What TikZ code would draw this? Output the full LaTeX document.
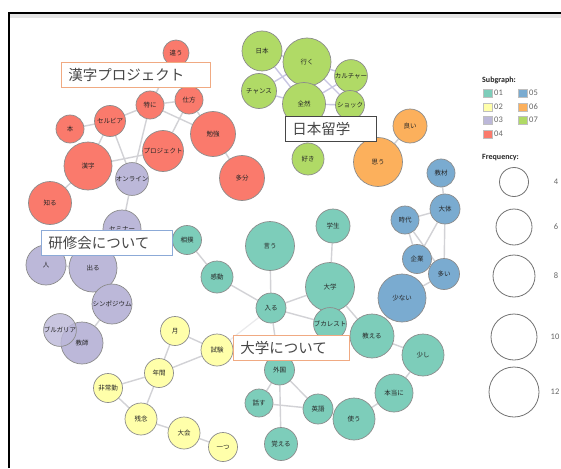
\documentclass[tikz,border=0pt]{standalone}
\usepackage{fontspec}
\setmainfont{Noto Sans CJK JP}
\newfontfamily\legfont{Carlito}
\usetikzlibrary{backgrounds}
\definecolor{cA}{RGB}{125,205,186}
\definecolor{cB}{RGB}{255,255,170}
\definecolor{cC}{RGB}{188,184,217}
\definecolor{cD}{RGB}{250,122,108}
\definecolor{cE}{RGB}{122,171,208}
\definecolor{cF}{RGB}{252,176,92}
\definecolor{cG}{RGB}{176,218,102}
\definecolor{edgegray}{RGB}{210,210,214}
\definecolor{edgelav}{RGB}{200,198,226}
\definecolor{faintgray}{RGB}{234,234,236}
\definecolor{boxorange}{RGB}{240,170,130}
\definecolor{boxblue}{RGB}{140,170,215}
\definecolor{boxdark}{RGB}{70,70,70}
\newcommand\kwnode[6]{\node[kwn,fill=#5,minimum size=#4*2pt] (#1) at (#2,#3) {#6};}
\begin{document}
\begin{tikzpicture}[x=1pt,y=-1pt,
  kwn/.style={circle,draw=black!45,line width=0.7pt,inner sep=0pt,
    font=\fontsize{6.5}{7}\selectfont,text=black!85},
  edge/.style={draw=edgegray,line width=1.4pt},
  edgel/.style={draw=edgelav,line width=1.4pt},
  edgef/.style={draw=faintgray,line width=1.2pt},
  tbox/.style={draw,fill=white,line width=0.8pt,anchor=north west,minimum height=25pt,
    inner xsep=7pt,inner ysep=0pt,align=left,
    font=\fontsize{14.5}{15}\selectfont,text=black!72},
  fcirc/.style={circle,draw=black!55,line width=0.8pt,fill=white,inner sep=0pt},
  legtxt/.style={font=\legfont\fontsize{8.5}{9}\selectfont,text=black!60,inner sep=0pt},
  legtitle/.style={font=\legfont\bfseries\fontsize{8}{9}\selectfont,text=black!85,inner sep=0pt,anchor=west},
  swatch/.style={minimum size=8.5pt,inner sep=0pt,draw=black!25,line width=0.3pt}
]
\useasboundingbox (0,0) rectangle (561,468);
% frame
\fill[black!10] (10,14) rectangle (561,18);
\draw[line width=2pt] (9,468) -- (9,13) -- (561,13);

% ---- red (04)
\kwnode{chigau}{176}{53}{13}{cD}{違う}
\kwnode{shikata}{189}{100}{14}{cD}{仕方}
\kwnode{tokuni}{150}{105}{14}{cD}{特に}
\kwnode{serbia}{110}{121}{15.5}{cD}{セルビア}
\kwnode{hon}{70}{129}{14}{cD}{本}
\kwnode{benkyo}{213}{134}{22.5}{cD}{勉強}
\kwnode{project}{163}{151}{20.5}{cD}{プロジェクト}
\kwnode{kanji}{88}{166}{24}{cD}{漢字}
\kwnode{tabun}{242}{178}{22.5}{cD}{多分}
\kwnode{shiru}{50}{203}{21.5}{cD}{知る}
% ---- purple (03)
\kwnode{online}{132}{179}{16}{cC}{オンライン}
\kwnode{seminar}{122}{229}{19}{cC}{セミナー}
\kwnode{hito}{46}{265}{20}{cC}{人}
\kwnode{deru}{93}{268}{24}{cC}{出る}
\kwnode{sympo}{112}{304}{20}{cC}{シンポジウム}
\kwnode{kyoshi}{82}{343}{21}{cC}{教師}
\node[kwn,fill=cC,fill opacity=0.8,text opacity=1,minimum size=32pt] (bulgaria) at (60,330) {ブルガリア};
% ---- green (07)
\kwnode{nihon}{262}{51}{20}{cG}{日本}
\kwnode{iku}{307}{62}{24}{cG}{行く}
\kwnode{culture}{351}{76}{15}{cG}{カルチャー}
\kwnode{chance}{259}{91}{17.5}{cG}{チャンス}
\kwnode{zenzen}{304}{104}{21.5}{cG}{全然}
\kwnode{shock}{350}{105}{14.5}{cG}{ショック}
\kwnode{suki}{308}{159}{16}{cG}{好き}
% ---- orange (06)
\kwnode{yoi}{410}{126}{17}{cF}{良い}
\kwnode{omou}{378}{162}{24.5}{cF}{思う}
% ---- blue (05)
\kwnode{kyozai}{441}{173}{14}{cE}{教材}
\kwnode{daitai}{445}{209}{15}{cE}{大体}
\kwnode{jidai}{405}{220}{14}{cE}{時代}
\kwnode{kigyo}{417}{259}{14.5}{cE}{企業}
\kwnode{ooi}{444}{274}{15.5}{cE}{多い}
\kwnode{sukunai}{402}{298}{24}{cE}{少ない}
% ---- teal (01)
\kwnode{gakusei}{333}{226}{17}{cA}{学生}
\kwnode{iu}{270}{246}{24.5}{cA}{言う}
\kwnode{sumo}{187}{240}{14.5}{cA}{相撲}
\kwnode{kando}{217}{277}{16}{cA}{感動}
\kwnode{daigaku}{330}{287}{24.5}{cA}{大学}
\kwnode{hairu}{271}{308}{15}{cA}{入る}
\kwnode{bucharest}{330}{324}{16}{cA}{ブカレスト}
\kwnode{oshieru}{372}{336}{22}{cA}{教える}
\kwnode{sukoshi}{423}{355}{21}{cA}{少し}
\kwnode{gaikoku}{279.5}{370}{15}{cA}{外国}
\kwnode{honto}{394}{393}{19}{cA}{本当に}
\kwnode{tsukau}{354}{419}{21}{cA}{使う}
\kwnode{eigo}{318}{409}{15}{cA}{英語}
\kwnode{hanasu}{259}{403}{14}{cA}{話す}
\kwnode{oboeru}{281}{444}{16.5}{cA}{覚える}
% ---- yellow (02)
\kwnode{tsuki}{175}{331}{14.5}{cB}{月}
\kwnode{shiken}{217}{350}{16}{cB}{試験}
\kwnode{nenkan}{159}{373}{14.5}{cB}{年間}
\kwnode{hijokin}{108}{388}{14.5}{cB}{非常勤}
\kwnode{zannen}{141}{419}{16}{cB}{残念}
\kwnode{taikai}{184}{433}{16}{cB}{大会}
\kwnode{hitotsu}{223}{447}{14.5}{cB}{一つ}

\begin{scope}[on background layer]
\fill[white] (0,0) rectangle (561,468);
% red
\draw[edge] (chigau) -- (tokuni);
\draw[edge] (tokuni) -- (shikata);
\draw[edge] (tokuni) -- (serbia);
\draw[edge] (tokuni) -- (benkyo);
\draw[edge] (tokuni) -- (online);
\draw[edge] (hon) -- (serbia);
\draw[edge] (serbia) -- (kanji);
\draw[edge] (serbia) -- (online);
\draw[edge] (shikata) -- (benkyo);
\draw[edge] (shikata) -- (project);
\draw[edge] (kanji) -- (project);
\draw[edge] (kanji) -- (shiru);
\draw[edge] (benkyo) -- (tabun);
% purple
\draw[edge] (online) -- (seminar);
\draw[edge] (seminar) -- (deru);
\draw[edge] (hito) -- (deru);
\draw[edge] (deru) -- (sympo);
\draw[edge] (sympo) -- (kyoshi);
% green
\draw[edgel] (nihon) -- (zenzen);
\draw[edgel] (nihon) -- (iku);
\draw[edgel] (chance) -- (iku);
\draw[edgel] (chance) -- (zenzen);
\draw[edgel] (iku) -- (shock);
\draw[edgel] (iku) -- (culture);
\draw[edgel] (culture) -- (zenzen);
\draw[edgel] (shock) -- (zenzen);
\draw[edge] (zenzen) -- (suki);
% orange
\draw[edge] (yoi) -- (omou);
% blue
\draw[edge] (kyozai) -- (daitai);
\draw[edge] (daitai) -- (jidai);
\draw[edge] (daitai) -- (kigyo);
\draw[edge] (daitai) -- (ooi);
\draw[edge] (jidai) -- (kigyo);
\draw[edge] (jidai) -- (ooi);
\draw[edge] (ooi) -- (sukunai);
\draw[edgef] (sukunai) -- (oshieru);
% teal
\draw[edge] (gakusei) -- (daigaku);
\draw[edge] (iu) -- (hairu);
\draw[edge] (sumo) -- (kando);
\draw[edge] (kando) -- (hairu);
\draw[edge] (hairu) -- (daigaku);
\draw[edge] (hairu) -- (bucharest);
\draw[edge] (daigaku) -- (oshieru);
\draw[edge] (hairu) -- (gaikoku);
\draw[edge] (oshieru) -- (sukoshi);
\draw[edge] (sukoshi) -- (honto);
\draw[edge] (honto) -- (tsukau);
\draw[edge] (gaikoku) -- (hanasu);
\draw[edge] (gaikoku) -- (eigo);
\draw[edge] (gaikoku) -- (oboeru);
\draw[edge] (hanasu) -- (eigo);
\draw[edgef] (hairu) -- (shiken);
% yellow
\draw[edge] (tsuki) -- (shiken);
\draw[edge] (tsuki) -- (nenkan);
\draw[edge] (shiken) -- (nenkan);
\draw[edge] (nenkan) -- (hijokin);
\draw[edge] (nenkan) -- (zannen);
\draw[edge] (hijokin) -- (zannen);
\draw[edge] (zannen) -- (taikai);
\draw[edge] (taikai) -- (hitotsu);
\end{scope}

% title boxes
\node[tbox,draw=boxorange,text width=135pt] (tkanji) at (61,62) {漢字プロジェクト};
\node[tbox,draw=boxdark,line width=0.7pt,text width=77pt] (tryugaku) at (285,116) {日本留学};
\node[tbox,draw=boxblue,text width=117pt] (tkenshu) at (41,230) {研修会について};
\node[tbox,draw=boxorange,text width=102pt] (tdaigaku) at (233,335) {大学について};

% legend
\node[legtitle] (lsub) at (482,80) {Subgraph:};
\node[swatch,fill=cA] (s1) at (487.5,93) {};
\node[swatch,fill=cB] (s2) at (487.5,107) {};
\node[swatch,fill=cC] (s3) at (487.5,120) {};
\node[swatch,fill=cD] (s4) at (487.5,134) {};
\node[swatch,fill=cE] (s5) at (522.5,93) {};
\node[swatch,fill=cF] (s6) at (522.5,107) {};
\node[swatch,fill=cG] (s7) at (522.5,120) {};
\node[legtxt,anchor=west] (t1) at (494,93) {01};
\node[legtxt,anchor=west] (t2) at (494,107) {02};
\node[legtxt,anchor=west] (t3) at (494,120) {03};
\node[legtxt,anchor=west] (t4) at (494,134) {04};
\node[legtxt,anchor=west] (t5) at (529,93) {05};
\node[legtxt,anchor=west] (t6) at (529,107) {06};
\node[legtxt,anchor=west] (t7) at (529,120) {07};
\node[legtitle] (lfreq) at (482,158) {Frequency:};
\node[fcirc,minimum size=29pt] (f4) at (514,182) {};
\node[fcirc,minimum size=36pt] (f6) at (514,227) {};
\node[fcirc,minimum size=42pt] (f8) at (514,276) {};
\node[fcirc,minimum size=46pt] (f10) at (514,337) {};
\node[fcirc,minimum size=50pt] (f12) at (514,392) {};
\node[legtxt] (n4) at (556,182) {4};
\node[legtxt] (n6) at (556,227) {6};
\node[legtxt] (n8) at (556,276) {8};
\node[legtxt] (n10) at (555,337) {10};
\node[legtxt] (n12) at (555,392) {12};
\end{tikzpicture}
\end{document}
